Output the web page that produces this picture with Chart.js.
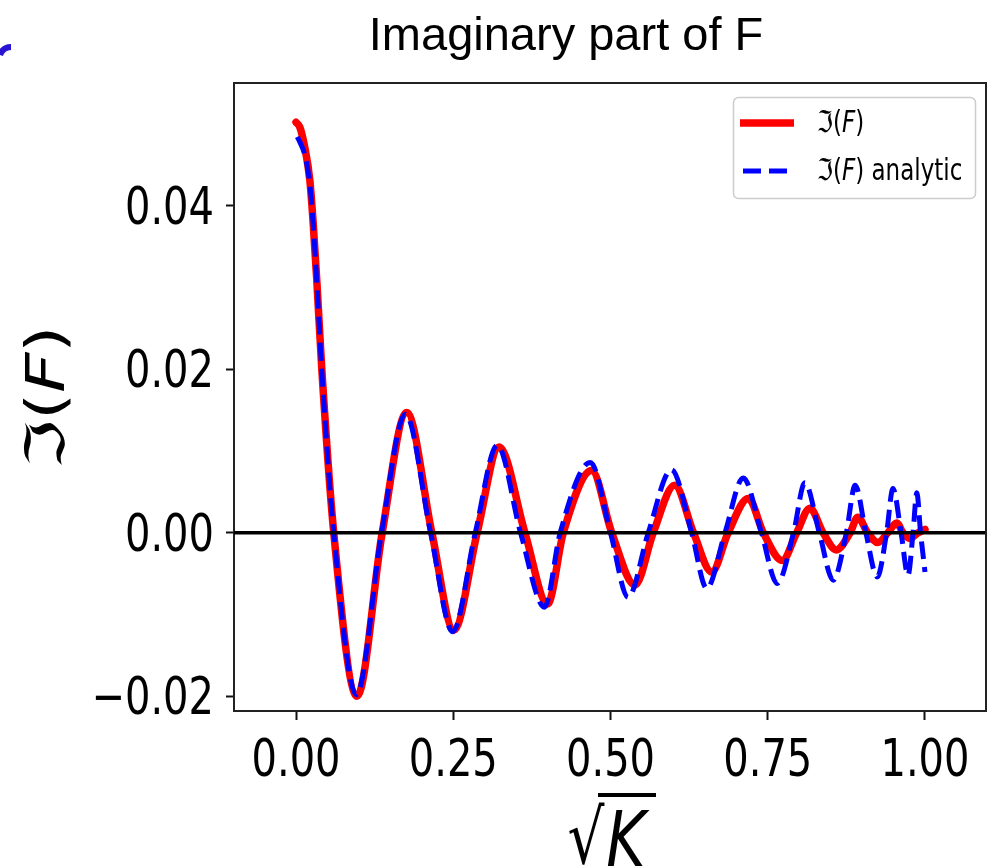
<!DOCTYPE html>
<html>
<head>
<meta charset="utf-8">
<script src="https://cdn.jsdelivr.net/npm/chart.js@4"></script>
<style>
  body { margin: 0; background: #fff; }
  canvas { display: block; }
</style>
</head>
<body>
<canvas id="myChart" width="992" height="866"></canvas>
<script>
  // sqrt(K) positions and Im(F) values
  const kNumeric = [0, 0.006, 0.014, 0.022, 0.027, 0.033, 0.041, 0.060, 0.097, 0.137,
    0.176, 0.216, 0.251, 0.288, 0.323, 0.364, 0.400, 0.425, 0.470, 0.502,
    0.539, 0.568, 0.602, 0.632, 0.661, 0.687, 0.719, 0.743, 0.773, 0.796,
    0.817, 0.838, 0.859, 0.881, 0.893, 0.909, 0.925, 0.941, 0.955, 0.965,
    0.976, 0.989, 1.0];
  const imNumeric = [0.0502, 0.0496, 0.0471, 0.0431, 0.0382, 0.0309, 0.0200, 0, -0.0200, 0,
    0.0147, 0, -0.0119, 0, 0.0105, 0, -0.0087, 0, 0.0076, 0,
    -0.0064, 0, 0.0058, 0, -0.0048, 0, 0.0042, 0, -0.0034, 0,
    0.0030, 0, -0.0021, 0, 0.0019, 0, -0.0012, 0, 0.0012, 0,
    -0.0007, 0, 0.0004];

  const kAnalytic = [0.002, 0.006, 0.014, 0.022, 0.027, 0.033, 0.041, 0.060, 0.096, 0.136,
    0.174, 0.214, 0.249, 0.285, 0.320, 0.357, 0.395, 0.420, 0.468, 0.500,
    0.528, 0.560, 0.597, 0.629, 0.653, 0.682, 0.711, 0.740, 0.765, 0.791,
    0.809, 0.832, 0.854, 0.875, 0.889, 0.906, 0.924, 0.939, 0.949, 0.962,
    0.973, 0.981, 0.987, 0.993, 1.0];
  const imAnalytic = [0.0484, 0.0478, 0.0462, 0.0426, 0.0380, 0.0307, 0.0198, 0, -0.0198, 0,
    0.0145, 0, -0.0121, 0, 0.0107, 0, -0.0091, 0, 0.0086, 0,
    -0.0079, 0, 0.0077, 0, -0.0068, 0, 0.0067, 0, -0.0062, 0,
    0.0061, 0, -0.0058, 0, 0.0058, 0, -0.0054, 0, 0.0054, 0,
    -0.0052, 0, 0.0049, 0, -0.0048];

  const xTicks = [0, 0.25, 0.5, 0.75, 1.0];
  const yTicks = [-0.02, 0, 0.02, 0.04];

  // the original figure was squeezed sideways, so its text is taller than wide
  const SY = 1.29;

  function pts(xs, ys) {
    return xs.map((x, i) => ({x: x, y: ys[i]}));
  }

  // draw a run of [text, italic] pieces, stretched like the source
  function drawMath(ctx, parts, x, y, size, align, rotated) {
    ctx.save();
    ctx.translate(x, y);
    if (rotated) {
      ctx.rotate(-Math.PI / 2);
      ctx.scale(SY, 1);
    } else {
      ctx.scale(1, SY);
    }
    ctx.textAlign = 'left';
    ctx.textBaseline = 'alphabetic';
    ctx.fillStyle = '#000';
    const fontOf = p => (p[1] ? 'oblique ' : '') + size + 'px "DejaVu Sans"';
    const widths = parts.map(p => { ctx.font = fontOf(p); return ctx.measureText(p[0]).width; });
    const total = widths.reduce((a, b) => a + b, 0);
    let cx = align === 'center' ? -total / 2 : (align === 'right' ? -total : 0);
    parts.forEach((p, i) => {
      ctx.font = fontOf(p);
      ctx.fillText(p[0], cx, 0);
      cx += widths[i];
    });
    ctx.restore();
  }

  function fmt(v) {
    return v.toFixed(2).replace('-', '\u2212');
  }

  const decor = {
    id: 'decor',
    afterDatasetsDraw(chart) {
      const ctx = chart.ctx;
      const a = chart.chartArea;
      const y0 = chart.scales.y.getPixelForValue(0);
      ctx.save();
      ctx.strokeStyle = '#000';
      ctx.lineWidth = 3.5;
      ctx.beginPath();
      ctx.moveTo(a.left, y0);
      ctx.lineTo(a.right, y0);
      ctx.stroke();
      ctx.restore();
    },
    afterDraw(chart) {
      const ctx = chart.ctx;
      const a = chart.chartArea;
      const xs = chart.scales.x;
      const ys = chart.scales.y;

      // top and right spines
      ctx.save();
      ctx.strokeStyle = '#222';
      ctx.lineWidth = 2;
      ctx.beginPath();
      ctx.moveTo(a.left, a.top);
      ctx.lineTo(a.right, a.top);
      ctx.lineTo(a.right, a.bottom);
      ctx.stroke();
      ctx.restore();

      // tick labels
      xTicks.forEach(v => drawMath(ctx, [[fmt(v), false]], xs.getPixelForValue(v), 776, 40, 'center'));
      yTicks.forEach(v => drawMath(ctx, [[fmt(v), false]], 214, ys.getPixelForValue(v) + 18, 40, 'right'));

      // axis labels
      drawMath(ctx, [['\u2111(', false], ['F', true], [')', false]], 64, 397, 54, 'center', true);
      drawMath(ctx, [['\u221A', false]], 586, 863, 58, 'center');
      drawMath(ctx, [['K', true]], 626, 866, 60, 'center');
      ctx.save();
      ctx.fillStyle = '#000';
      ctx.fillRect(598, 793, 58, 4);
      ctx.restore();

      // title
      ctx.save();
      ctx.fillStyle = '#000';
      ctx.font = '47px "Liberation Sans"';
      ctx.textAlign = 'center';
      ctx.textBaseline = 'alphabetic';
      ctx.fillText('Imaginary part of F', 566, 50);
      ctx.restore();

      // legend
      ctx.save();
      ctx.fillStyle = 'rgba(255,255,255,0.8)';
      ctx.strokeStyle = '#cccccc';
      ctx.lineWidth = 1.5;
      ctx.beginPath();
      ctx.roundRect(733.5, 97.5, 242, 101, 5);
      ctx.fill();
      ctx.stroke();
      const rows = [123, 171];
      chart.data.datasets.forEach(ds => {
        const y = rows[ds.legendRow];
        ctx.strokeStyle = ds.borderColor;
        ctx.lineWidth = ds.borderWidth;
        ctx.setLineDash(ds.borderDash || []);
        ctx.beginPath();
        ctx.moveTo(ds.legendRow === 0 ? 740 : 743, y);
        ctx.lineTo(794, y);
        ctx.stroke();
        ctx.setLineDash([]);
        drawMath(ctx, ds.labelParts, 817, y + 9, 23, 'left');
      });
      ctx.restore();

      // stray mark at the top-left corner of the source
      ctx.save();
      ctx.strokeStyle = 'rgb(40,20,210)';
      ctx.lineWidth = 6;
      ctx.beginPath();
      ctx.moveTo(0, 55);
      ctx.quadraticCurveTo(3, 47, 11, 47);
      ctx.stroke();
      ctx.restore();
    }
  };

  const data = {
    datasets: [{
      label: '\u2111(F) analytic',
      labelParts: [['\u2111(', false], ['F', true], [') analytic', false]],
      legendRow: 1,
      data: pts(kAnalytic, imAnalytic),
      borderColor: 'rgb(0, 0, 255)',
      borderWidth: 5,
      borderDash: [18, 8],
      cubicInterpolationMode: 'monotone',
      order: 0,
    }, {
      label: '\u2111(F)',
      labelParts: [['\u2111(', false], ['F', true], [')', false]],
      legendRow: 0,
      data: pts(kNumeric, imNumeric),
      borderColor: 'rgb(255, 0, 0)',
      borderWidth: 7.5,
      borderCapStyle: 'round',
      cubicInterpolationMode: 'monotone',
      order: 1,
    }]
  };

  const config = {
    type: 'line',
    data: data,
    plugins: [decor],
    options: {
      responsive: false,
      animation: false,
      layout: {
        padding: {top: 83, right: 6, left: 0, bottom: 0}
      },
      elements: {
        point: {radius: 0}
      },
      plugins: {
        legend: {display: false},
        title: {display: false},
        tooltip: {enabled: false}
      },
      scales: {
        x: {
          type: 'linear',
          min: -0.0986,
          max: 1.097,
          afterBuildTicks: s => { s.ticks = xTicks.map(v => ({value: v})); },
          afterFit: s => { s.height = 155; },
          ticks: {color: 'rgba(0,0,0,0)'},
          grid: {drawOnChartArea: false, drawTicks: true, tickLength: 9, tickWidth: 2, color: '#111'},
          border: {display: true, color: '#222', width: 2}
        },
        y: {
          type: 'linear',
          min: -0.0218,
          max: 0.0550,
          afterBuildTicks: s => { s.ticks = yTicks.map(v => ({value: v})); },
          afterFit: s => { s.width = 234; },
          ticks: {color: 'rgba(0,0,0,0)'},
          grid: {drawOnChartArea: false, drawTicks: true, tickLength: 8, tickWidth: 2, color: '#111'},
          border: {display: true, color: '#222', width: 2}
        }
      }
    }
  };

  const myChart = new Chart(
    document.getElementById('myChart'),
    config
  );
</script>
</body>
</html>
